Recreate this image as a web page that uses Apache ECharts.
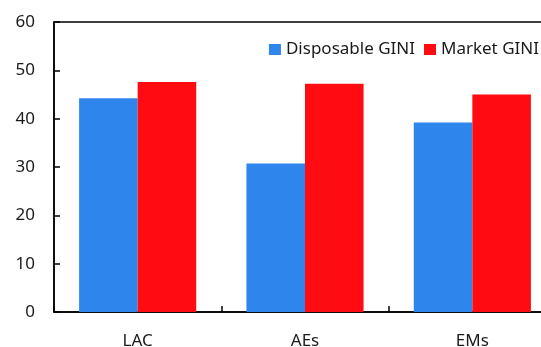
<!DOCTYPE html>
<html>
<head>
<meta charset="utf-8">
<script src="https://cdn.jsdelivr.net/npm/echarts@6/dist/echarts.min.js"></script>
<style>html,body{margin:0;padding:0;background:#fff}#c{width:541px;height:347px}</style>
</head>
<body>
<div id="c"></div>
<script>
var categories = ["LAC", "AEs", "EMs"];
var disposableGini = [44.2, 30.7, 39.2];
var marketGini = [47.6, 47.2, 45.0];
var seriesNames = ["Disposable GINI", "Market GINI"];

var FONT = "'Noto Sans', 'Open Sans', sans-serif";
var chart = echarts.init(document.getElementById('c'), null, {renderer: 'canvas'});
chart.setOption({
  animation: false,
  grid: {left: 54, right: -15, top: 22, bottom: 35, show: true, borderColor: '#000', borderWidth: 1.5,
         backgroundColor: 'transparent', outerBoundsMode: 'none', containLabel: false},
  legend: {
    right: -3, top: 36, itemWidth: 12, itemHeight: 11, itemGap: 9,
    icon: 'rect',
    textStyle: {fontFamily: FONT, fontSize: 17, color: '#1a1a1a'},
    data: seriesNames
  },
  xAxis: {
    type: 'category', data: categories,
    axisLine: {lineStyle: {color: '#000', width: 1.5}},
    axisTick: {show: true, inside: true, length: 6, lineStyle: {color: '#000', width: 1.5}},
    axisLabel: {fontFamily: FONT, fontSize: 17, color: '#1a1a1a', margin: 21}
  },
  yAxis: {
    type: 'value', min: 0, max: 60, interval: 10,
    axisLine: {show: true, lineStyle: {color: '#000', width: 1.5}},
    axisTick: {show: true, inside: true, length: 6, lineStyle: {color: '#000', width: 1.5}},
    axisLabel: {fontFamily: FONT, fontSize: 17, color: '#1a1a1a', margin: 19},
    splitLine: {show: false}
  },
  series: [
    {name: seriesNames[0], type: 'bar', data: disposableGini, barGap: '0%', barCategoryGap: '30%',
     itemStyle: {color: '#2E86EC'}},
    {name: seriesNames[1], type: 'bar', data: marketGini,
     itemStyle: {color: '#FF0C12'}}
  ]
});
</script>
</body>
</html>
